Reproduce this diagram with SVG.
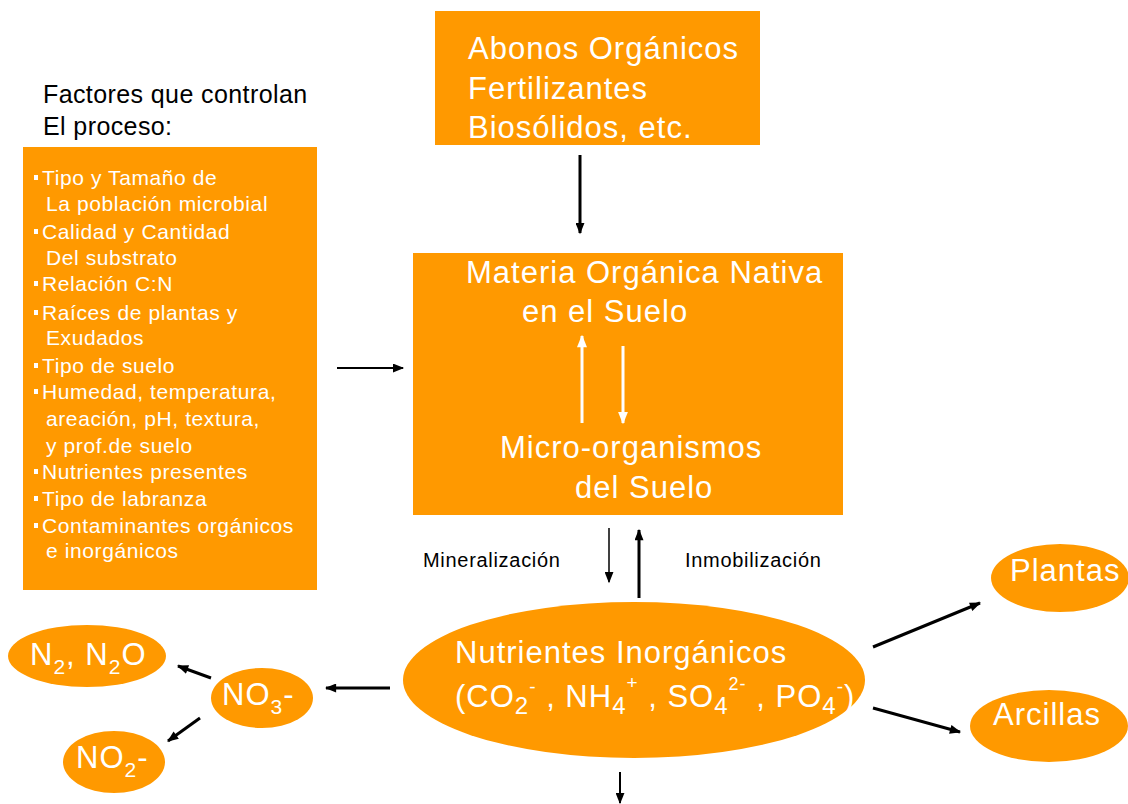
<svg xmlns="http://www.w3.org/2000/svg" width="1128" height="804" viewBox="0 0 1128 804">
  <style>
    .box { fill: #FF9900; }
    .big { font-family: "Liberation Sans", Arial, sans-serif; font-size: 31px; letter-spacing: 1px; fill: #FFFFFF; }
    .list { font-family: "Liberation Sans", Arial, sans-serif; font-size: 21px; letter-spacing: 0.6px; fill: #FFFFFF; }
    .lbl { font-family: "Liberation Sans", Arial, sans-serif; font-size: 20px; letter-spacing: 0.7px; fill: #000000; }
    .head { font-family: "Liberation Sans", Arial, sans-serif; font-size: 25px; letter-spacing: 0.4px; fill: #000000; }
    .blk { stroke: #000000; fill: none; }
    .wht { stroke: #FFFFFF; fill: none; stroke-width: 3; }
  </style>
  <defs>
    <marker id="ah" viewBox="0 0 10 8" refX="9" refY="4" markerWidth="12" markerHeight="9" markerUnits="userSpaceOnUse" orient="auto">
      <path d="M0,0 L10,4 L0,8 z" fill="#000000"/>
    </marker>
    <marker id="ahw" viewBox="0 0 10 8" refX="9" refY="4" markerWidth="13" markerHeight="10" markerUnits="userSpaceOnUse" orient="auto">
      <path d="M0,0 L10,4 L0,8 z" fill="#FFFFFF"/>
    </marker>
  </defs>
  <rect width="1128" height="804" fill="#FFFFFF"/>

  <!-- header over the factor list -->
  <g id="factores-titulo">
    <text class="head" x="43" y="103">Factores que controlan</text>
    <text class="head" x="43" y="135">El proceso:</text>
  </g>

  <!-- list of controlling factors -->
  <g id="factores">
    <rect class="box" x="23" y="147" width="294" height="443"/>
    <g fill="#FFFFFF">
      <rect x="34" y="175" width="4" height="5"/>
      <rect x="34" y="229" width="4" height="5"/>
      <rect x="34" y="281" width="4" height="5"/>
      <rect x="34" y="310" width="4" height="5"/>
      <rect x="34" y="363" width="4" height="5"/>
      <rect x="34" y="389" width="4" height="5"/>
      <rect x="34" y="469" width="4" height="5"/>
      <rect x="34" y="496" width="4" height="5"/>
      <rect x="34" y="523" width="4" height="5"/>
    </g>
    <text class="list" x="42" y="185">Tipo y Tamaño de</text>
    <text class="list" x="46" y="211">La población microbial</text>
    <text class="list" x="42" y="239">Calidad y Cantidad</text>
    <text class="list" x="46" y="265">Del substrato</text>
    <text class="list" x="42" y="291">Relación C:N</text>
    <text class="list" x="42" y="320">Raíces de plantas y</text>
    <text class="list" x="46" y="345">Exudados</text>
    <text class="list" x="42" y="373">Tipo de suelo</text>
    <text class="list" x="42" y="399">Humedad, temperatura,</text>
    <text class="list" x="46" y="426">areación, pH, textura,</text>
    <text class="list" x="46" y="453">y prof.de suelo</text>
    <text class="list" x="42" y="479">Nutrientes presentes</text>
    <text class="list" x="42" y="506">Tipo de labranza</text>
    <text class="list" x="42" y="533">Contaminantes orgánicos</text>
    <text class="list" x="46" y="558">e inorgánicos</text>
  </g>

  <!-- organic inputs -->
  <g id="abonos">
    <rect class="box" x="435" y="11" width="325" height="134"/>
    <text class="big" x="468" y="59">Abonos Orgánicos</text>
    <text class="big" x="468" y="99">Fertilizantes</text>
    <text class="big" x="468" y="138">Biosólidos, etc.</text>
  </g>

  <!-- native organic matter and soil micro-organisms -->
  <g id="materia-organica">
    <rect class="box" x="413" y="253" width="430" height="262"/>
    <text class="big" x="466" y="283">Materia Orgánica Nativa</text>
    <text class="big" x="522" y="322">en el Suelo</text>
    <text class="big" x="500" y="458">Micro-organismos</text>
    <text class="big" x="575" y="498">del Suelo</text>
    <line class="wht" x1="582" y1="423" x2="582" y2="336" marker-end="url(#ahw)"/>
    <line class="wht" x1="623" y1="346" x2="623" y2="423" marker-end="url(#ahw)"/>
  </g>

  <!-- inorganic nutrients -->
  <g id="nutrientes">
    <ellipse class="box" cx="634" cy="680" rx="231" ry="78"/>
    <text class="big" x="455" y="663">Nutrientes Inorgánicos</text>
    <text class="big" x="455" y="707">(CO<tspan font-size="24" dy="7">2</tspan><tspan font-size="19" dy="-21">-</tspan><tspan dy="14"> , NH</tspan><tspan font-size="24" dy="7">4</tspan><tspan font-size="19" dy="-25">+</tspan><tspan dy="18"> , SO</tspan><tspan font-size="24" dy="7">4</tspan><tspan font-size="18" dy="-24">2-</tspan><tspan dy="17"> , PO</tspan><tspan font-size="24" dy="7">4</tspan><tspan font-size="19" dy="-21">-</tspan><tspan dy="14">)</tspan></text>
  </g>

  <g id="nitrato">
    <ellipse class="box" cx="262" cy="698" rx="51" ry="30"/>
    <text class="big" x="222" y="705">NO<tspan font-size="21" dy="9">3</tspan><tspan dy="-9">-</tspan></text>
  </g>

  <g id="n2-n2o">
    <ellipse class="box" cx="87" cy="656" rx="79" ry="31"/>
    <text class="big" x="30" y="665">N<tspan font-size="21" dy="9">2</tspan><tspan dy="-9">, N</tspan><tspan font-size="21" dy="9">2</tspan><tspan dy="-9">O</tspan></text>
  </g>

  <g id="nitrito">
    <ellipse class="box" cx="114" cy="762" rx="51" ry="31"/>
    <text class="big" x="76" y="768">NO<tspan font-size="21" dy="9">2</tspan><tspan dy="-9">-</tspan></text>
  </g>

  <g id="plantas">
    <ellipse class="box" cx="1060" cy="578" rx="69" ry="34"/>
    <text class="big" x="1010" y="581">Plantas</text>
  </g>

  <g id="arcillas">
    <ellipse class="box" cx="1049" cy="726" rx="79" ry="36"/>
    <text class="big" x="993" y="725">Arcillas</text>
  </g>

  <!-- process labels -->
  <g id="etiquetas">
    <text class="lbl" x="423" y="567">Mineralización</text>
    <text class="lbl" x="685" y="567">Inmobilización</text>
  </g>

  <!-- connectors -->
  <g id="conectores">
    <line class="blk" stroke-width="3" x1="580" y1="155" x2="580" y2="233" marker-end="url(#ah)"/>
    <line class="blk" stroke-width="2" x1="337" y1="368" x2="403" y2="368" marker-end="url(#ah)"/>
    <line class="blk" stroke-width="1.5" x1="609" y1="528" x2="609" y2="582" marker-end="url(#ah)"/>
    <line class="blk" stroke-width="3" x1="639" y1="598" x2="639" y2="530" marker-end="url(#ah)"/>
    <line class="blk" stroke-width="3" x1="390" y1="688" x2="326" y2="688" marker-end="url(#ah)"/>
    <line class="blk" stroke-width="3" x1="211" y1="678" x2="178" y2="666" marker-end="url(#ah)"/>
    <line class="blk" stroke-width="3" x1="200" y1="718" x2="168" y2="741" marker-end="url(#ah)"/>
    <line class="blk" stroke-width="3" x1="873" y1="647" x2="980" y2="603" marker-end="url(#ah)"/>
    <line class="blk" stroke-width="3" x1="873" y1="708" x2="960" y2="732" marker-end="url(#ah)"/>
    <line class="blk" stroke-width="2" x1="620" y1="772" x2="620" y2="803" marker-end="url(#ah)"/>
  </g>
</svg>
